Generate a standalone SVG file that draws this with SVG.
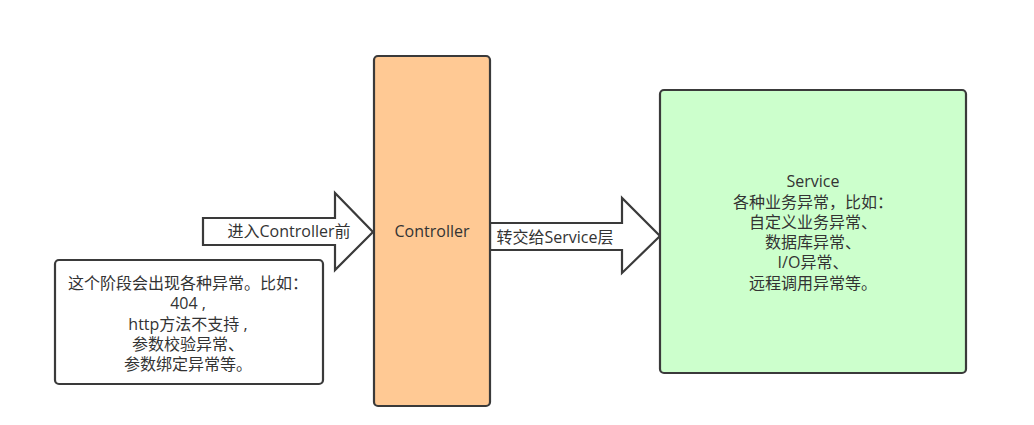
<svg xmlns="http://www.w3.org/2000/svg" width="1034" height="425" viewBox="0 0 1034 425">
<style>
.t{font-family:"Open Sans","Noto Sans CJK SC",sans-serif;font-size:16px;fill:#333;text-anchor:middle;dominant-baseline:central}
.arrow{fill:#fff;stroke:#3a3a3a;stroke-width:2.2;stroke-linejoin:miter}
.box{stroke:#3a3a3a;stroke-width:2.2}
</style>
<rect width="1034" height="425" fill="#fff"/>
<g id="connectors">
<g id="arrow-in">
<path class="arrow" d="M203,218 L335,218 L335,193 L373,232 L335,270 L335,245 L203,245 Z"/>
<text class="t" x="289" y="231">进入Controller前</text>
</g>
<g id="arrow-out">
<path class="arrow" d="M490,223 L622,223 L622,198 L660,236 L622,273 L622,250 L490,250 Z"/>
<text class="t" x="555" y="237">转交给Service层</text>
</g>
</g>
<g id="controller">
<rect class="box" x="374" y="56" width="116" height="350" rx="4" fill="#ffc994"/>
<text class="t" x="432" y="231">Controller</text>
</g>
<g id="note">
<rect class="box" x="55" y="260" width="268" height="124" rx="4" fill="#fff"/>
<text class="t" x="188" y="283">这个阶段会出现各种异常。比如：</text>
<text class="t" x="188" y="303">404 ,</text>
<text class="t" x="188" y="324">http方法不支持 ,</text>
<text class="t" x="188" y="344">参数校验异常、</text>
<text class="t" x="188" y="364">参数绑定异常等。</text>
</g>
<g id="service">
<rect class="box" x="660" y="90" width="306" height="283" rx="4" fill="#ccffcc"/>
<text class="t" x="813" y="181">Service</text>
<text class="t" x="813" y="202">各种业务异常，比如：</text>
<text class="t" x="813" y="222">自定义业务异常、</text>
<text class="t" x="813" y="242">数据库异常、</text>
<text class="t" x="813" y="262">I/O异常、</text>
<text class="t" x="813" y="283">远程调用异常等。</text>
</g>
</svg>
